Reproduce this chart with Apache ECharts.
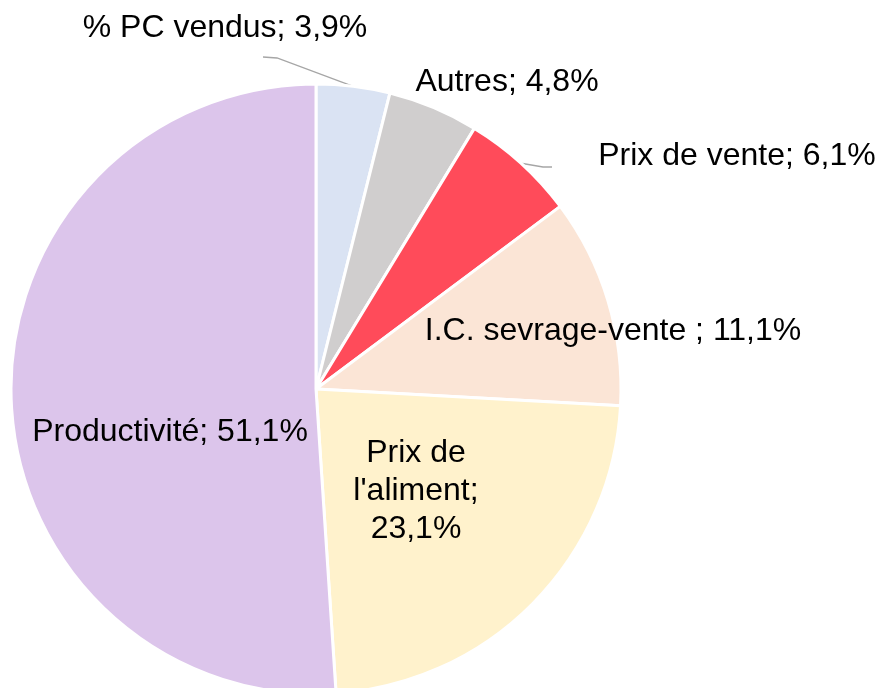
<!DOCTYPE html>
<html>
<head>
<meta charset="utf-8">
<script src="https://cdn.jsdelivr.net/npm/echarts@6/dist/echarts.min.js"></script>
<style>
html,body{margin:0;padding:0;background:#fff;}
#chart{width:883px;height:688px;}
</style>
</head>
<body>
<div id="chart"></div>
<script>
// ---- data ----
const categories = ["% PC vendus", "Autres", "Prix de vente", "I.C. sevrage-vente ", "Prix de l'aliment", "Productivité"];
const values = [3.9, 4.8, 6.1, 11.1, 23.1, 51.1];

// ---- styles / layout (kept apart from the data) ----
const colors = ["#dae3f3", "#d0cece", "#ff4b5a", "#fbe5d6", "#fff2cc", "#dcc5eb"];
const outsideLabel = [true, false, true, false, false, false];
const wrappedLabel = [false, false, false, false, true, false];
const labelCenters = [[225, 28], [507, 82], [737, 156], [613, 331], [416, 491], [170, 432]];
const guideBends = { 0: [[277, 58], [263, 57]], 2: [[543, 167], [552, 167]] };

const fmt = v => v.toFixed(1).replace('.', ',');

const chart = echarts.init(document.getElementById('chart'), null, { renderer: 'canvas' });
const data = categories.map((name, i) => ({
  name: name,
  value: values[i],
  itemStyle: { color: colors[i] },
  label: {
    position: outsideLabel[i] ? 'outside' : 'inside',
    lineHeight: wrappedLabel[i] ? 38 : 36,
    align: 'center',
    formatter: wrappedLabel[i]
      ? (p => p.name.replace(' l', '\nl') + ';\n' + fmt(p.value) + '%')
      : (p => p.name + '; ' + fmt(p.value) + '%')
  },
  labelLine: { show: outsideLabel[i] }
}));

chart.setOption({
  animation: false,
  backgroundColor: '#fff',
  series: [{
    type: 'pie',
    center: [316, 389],
    radius: 305,
    startAngle: 90,
    clockwise: true,
    avoidLabelOverlap: false,
    itemStyle: { borderColor: '#fff', borderWidth: 3 },
    label: {
      show: true,
      color: '#000',
      fontFamily: '"Liberation Sans", Arial, sans-serif',
      fontSize: 32
    },
    labelLine: {
      lineStyle: { color: '#a6a6a6', width: 1.3 },
      smooth: false
    },
    labelLayout: function (params) {
      const i = params.dataIndex;
      const c = labelCenters[i];
      const res = { x: c[0], y: c[1], align: 'center', verticalAlign: 'middle' };
      if (guideBends[i]) {
        let anchor = params.labelLinePoints && params.labelLinePoints[0];
        res.labelLinePoints = [anchor ? anchor.slice() : guideBends[i][0]].concat(guideBends[i]);
      }
      return res;
    },
    data: data
  }]
});
</script>
</body>
</html>
